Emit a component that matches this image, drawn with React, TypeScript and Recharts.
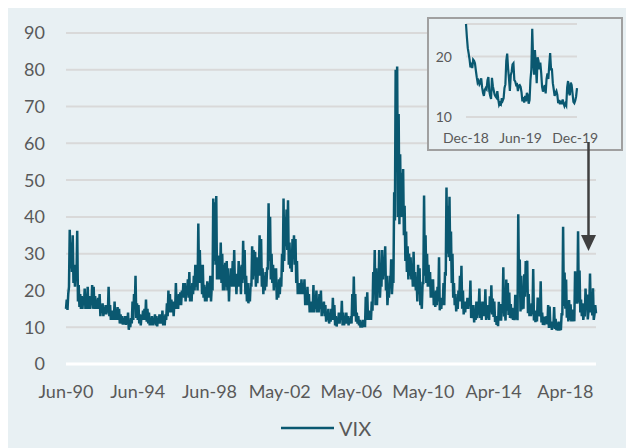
import { CartesianGrid, Legend, Line, LineChart, ReferenceLine, XAxis, YAxis } from 'recharts';

// VIX, two readings a month (monthly low / high close), Jun 1990 .. Dec 2019
const vix1990 = [15, 17.5, 14.7, 19, 21, 36.5, 26, 33, 25, 35, 22, 27, 21, 26];
const vix1991 = [23, 36.2, 17, 21.5, 15.5, 19, 15, 18.5, 15, 18, 16, 20.5, 15, 18, 15, 21, 15, 18.5, 15, 18, 16, 21.5, 15, 21];
const vix1992 = [15, 18.5, 15, 17.5, 15, 18, 15, 19, 13, 16, 14, 16.5, 13, 15.5, 13.5, 16, 13.5, 16, 14, 21, 13, 16, 12, 14.5];
const vix1993 = [12, 14.5, 12, 17, 12, 15, 12, 15.5, 12, 15, 11, 13.5, 11, 13, 10.7, 12.5, 10.8, 13, 10.6, 13, 10.8, 14, 9.3, 11.5];
const vix1994 = [10, 12.5, 11, 17, 12, 19, 15, 24, 12.5, 16.5, 12, 16, 11, 13.5, 10.5, 13, 12, 14.5, 12, 15, 12, 17.5, 11.5, 15];
const vix1995 = [11, 14, 10.5, 12.5, 10.5, 13, 10.5, 12.5, 11, 13.5, 10.5, 13, 10.2, 12.5, 11, 13.5, 11, 13.5, 11, 14.5, 10.5, 12.5, 10.5, 13.5];
const vix1996 = [12, 16.5, 13, 20, 14, 19, 14, 17.5, 14, 17, 13, 16.5, 15, 22, 15, 18, 15, 19, 16, 19.5, 16, 20, 18, 22];
const vix1997 = [18, 22, 17, 21, 19, 23, 18, 25, 17, 21, 17, 22, 19, 24, 20, 27, 21, 25, 20, 38.2, 22, 31, 22, 27];
const vix1998 = [19, 27, 18, 21.5, 17, 21, 17, 22.5, 18, 22, 18, 24, 17, 21, 20, 45, 28, 44, 27, 45.7, 23, 29, 23, 29.5];
const vix1999 = [23, 33, 22, 30, 20, 27, 20, 27.5, 21, 28, 20, 26, 17, 23, 21, 26, 21, 28, 21, 31, 21, 24.5, 19, 24.5];
const vix2000 = [21, 28, 21, 26.5, 19, 27, 22, 33.5, 23, 31, 19, 24, 17, 22, 16.5, 20, 17, 22, 21, 32, 23, 31, 24, 30.5];
const vix2001 = [21, 29, 22, 28, 24, 35, 24, 34, 21, 26, 19, 24, 20, 25, 21, 26, 26, 43.7, 28, 40, 23, 30, 22, 27];
const vix2002 = [20, 26, 21, 26, 17.5, 22, 18, 23, 19, 23.5, 21, 30, 25, 45, 28, 40, 32, 42, 31, 44.5, 27, 33, 26, 31];
const vix2003 = [25, 34, 29, 35, 27, 34, 22, 28, 19, 22, 19, 22, 19, 23, 19, 22, 19, 23, 16, 20, 16, 21, 16, 19];
const vix2004 = [14, 17, 14, 17, 14, 21.5, 14, 18, 15, 20, 14, 17, 14, 19, 15, 20, 13, 15.5, 14, 17, 13, 16, 11.5, 14];
const vix2005 = [12, 15, 11, 13, 11.5, 15, 12, 18, 12, 16, 10.5, 13, 10.2, 12, 11, 14, 11, 14, 12, 17.2, 10.5, 14, 10.5, 12.5];
const vix2006 = [11, 14, 11, 13, 10.5, 12.5, 11, 13, 11, 19, 13, 23.8, 13, 19, 11.5, 14, 11, 13, 10.5, 12, 9.9, 11.5, 9.9, 12];
const vix2007 = [10, 12, 10, 18.3, 12, 19.5, 12, 14.5, 12, 14, 12, 17, 14.5, 25, 20, 31, 16, 26, 16, 23, 20, 31, 18, 23];
const vix2008 = [21, 31, 23, 29, 24, 32, 20, 24, 16, 20, 18, 24, 21, 28.5, 19, 23, 22, 46.7, 39, 80, 54, 80.9, 40, 68];
const vix2009 = [38, 57, 40, 52, 40, 53, 35, 43, 28, 36, 25, 32, 23, 30, 24, 29, 23, 26, 21, 30.5, 21, 25, 20, 23];
const vix2010 = [17, 27, 19, 26, 16, 18.5, 15, 22, 22, 45.8, 24, 35, 22, 30, 21, 27, 21, 25, 18, 23, 18, 23, 16, 18];
const vix2011 = [15.5, 20, 16, 21, 17, 29, 14.6, 17, 15, 18, 16, 22, 16, 25, 24, 48, 30, 43, 29, 45.5, 28, 36, 22, 30];
const vix2012 = [18, 22, 16, 19, 14.3, 17, 15, 20, 17, 24, 17, 26.7, 15, 20, 13.5, 17, 14, 17, 15, 18, 15, 18, 16, 22.7];
const vix2013 = [12.5, 14.3, 12.5, 16, 11.3, 14.5, 12, 17, 12.5, 14.5, 15, 20.5, 12.5, 14.7, 12, 17, 13, 17, 13, 20.3, 12, 14, 12.5, 16];
const vix2014 = [12, 18.4, 14, 21.4, 13.5, 17.8, 12.8, 17, 11.4, 13, 10.6, 12, 10.3, 16.9, 11.8, 16.3, 11.8, 16, 14, 26.3, 12.9, 14.5, 11.8, 23];
const vix2015 = [14.5, 22, 13.3, 19.4, 12.5, 16.3, 12.4, 15.3, 12, 15, 11.9, 18.8, 12.1, 17, 11.9, 40.7, 20, 28.4, 14.3, 24, 14.8, 20, 15, 24.4];
const vix2016 = [18.3, 28, 19.5, 28.1, 13.8, 19, 13, 15.8, 13, 16.5, 13.5, 25.8, 11.8, 14.5, 11.4, 13.5, 11.6, 18.1, 13, 17.1, 12.9, 22.5, 11.3, 14];
const vix2017 = [10.6, 12.9, 10.6, 12.9, 11, 13, 10.8, 16, 9.8, 15.6, 9.9, 11.5, 9.3, 11.3, 9.9, 15.5, 9.5, 12.3, 9.2, 11.2, 9.1, 11.5, 9.1, 11.1];
const vix2018 = [9.2, 13.5, 13.5, 37.3, 15.8, 24.9, 15, 23, 12.6, 15.9, 11.6, 17.4, 12, 16.2, 11.6, 14.8, 11.6, 13.8, 11.6, 25.2, 16.4, 22.5, 16.4, 36.1];
const vix2019 = [16.7, 25.4, 14, 17.5, 13, 16.5, 12, 14, 12.9, 20.5, 15, 18.9, 12.1, 14.5, 16, 24.6, 14, 19.5, 13.2, 20.6, 12, 13.5, 16, 13.8];

const years = [
  vix1990, vix1991, vix1992, vix1993, vix1994, vix1995, vix1996, vix1997, vix1998, vix1999,
  vix2000, vix2001, vix2002, vix2003, vix2004, vix2005, vix2006, vix2007, vix2008, vix2009,
  vix2010, vix2011, vix2012, vix2013, vix2014, vix2015, vix2016, vix2017, vix2018, vix2019,
];

// month index (0 = Jun-90) of each category label
const xTickMonths = [0, 48, 96, 143, 191, 239, 286, 334];
const xTickLabels = ['Jun-90', 'Jun-94', 'Jun-98', 'May-02', 'May-06', 'May-10', 'Apr-14', 'Apr-18'];
const yTicks = [0, 10, 20, 30, 40, 50, 60, 70, 80, 90];

// inset: Dec-18 .. Dec-19, roughly every other trading day
const insetDec18 = [25.4];
const insetJan19 = [23.2, 21.4, 20.5, 19.5, 18.2, 19.0, 18.1, 19.5, 19.3, 18.9, 17.7, 16.6];
const insetFeb19 = [15.7, 16.0, 15.4, 15.7, 16.4, 14.9, 14.0, 13.5, 14.5, 14.8];
const insetMar19 = [14.6, 16.1, 16.6, 14.3, 13.5, 13.0, 16.5, 15.1, 14.4, 13.7];
const insetApr19 = [13.4, 13.2, 14.3, 13.0, 12.0, 12.3, 12.1, 13.1, 12.7, 13.1];
const insetMay19 = [14.8, 15.4, 19.3, 20.5, 18.1, 16.4, 14.3, 16.9, 17.5, 18.7];
const insetJun19 = [18.9, 16.1, 15.9, 15.3, 15.4, 14.3, 15.2, 15.3, 15.0];
const insetJul19 = [14.1, 12.6, 13.3, 12.4, 13.5, 12.6, 14.0, 13.6, 12.2, 12.8, 16.1];
const insetAug19 = [17.9, 24.6, 19.5, 17.0, 21.1, 18.5, 15.6, 19.9, 19.3, 17.9, 19.0];
const insetSep19 = [17.3, 15.0, 14.2, 14.7, 15.3, 13.9, 16.3, 17.2, 16.3];
const insetOct19 = [18.6, 20.6, 17.9, 17.9, 15.6, 14.6, 13.5, 14.0, 14.3, 13.7];
const insetNov19 = [12.3, 12.8, 12.1, 12.7, 12.1, 12.9, 12.3, 11.8, 12.2, 11.9];
const insetDec19 = [14.9, 15.96, 14.0, 13.6, 15.7, 15.3, 13.9, 12.5, 12.3, 12.7, 13.4, 14.8];

const insetMonths = [
  insetDec18, insetJan19, insetFeb19, insetMar19, insetApr19, insetMay19, insetJun19,
  insetJul19, insetAug19, insetSep19, insetOct19, insetNov19, insetDec19,
];
const insetTickLabels = ['Dec-18', 'Jun-19', 'Dec-19'];
const insetYTicks = [10, 20];

const data = years.flat().map((vix, i) => ({ t: i / 2, vix }));
const insetData = insetMonths.flat().map((vix, i) => ({ t: i, vix }));
const insetTicks = [0, insetMonths.slice(0, 7).flat().length - 1, insetData.length - 3];

const BG = '#E8F0F3';
const LINE = '#0A5870';
const GRID = '#D9D9D9';
const TEXT = '#595959';

const VixLegend = () => (
  <div style={{ display: 'flex', alignItems: 'center', height: 24, paddingLeft: 274 }}>
    <svg width={53} height={4}>
      <line x1={0} y1={2} x2={53} y2={2} stroke={LINE} strokeWidth={2.5} />
    </svg>
    <span style={{ marginLeft: 5, fontSize: 20, color: TEXT, lineHeight: '24px' }}>VIX</span>
  </div>
);

export default function App() {
  return (
    <div
      style={{
        position: 'relative',
        width: 627,
        height: 445,
        margin: '-5px 0 0 -1px',
        background: BG,
        fontFamily: 'Lato, sans-serif',
      }}
    >
      <LineChart width={627} height={445} data={data} margin={{ top: 30, right: 38, bottom: 8, left: 0 }}>
        <CartesianGrid vertical={false} stroke={GRID} strokeWidth={2} />
        <XAxis
          dataKey="t"
          type="number"
          domain={[0, 'dataMax']}
          ticks={xTickMonths}
          interval={0}
          tickFormatter={(v) => xTickLabels[xTickMonths.indexOf(v)]}
          axisLine={false}
          tickLine={false}
          tickSize={0}
          tickMargin={21}
          height={52}
          tick={{ fill: TEXT, fontSize: 18 }}
        />
        <YAxis
          domain={[0, 90]}
          ticks={yTicks}
          interval={0}
          width={59}
          axisLine={false}
          tickLine={false}
          tickSize={0}
          tickMargin={21}
          tick={{ fill: TEXT, fontSize: 18 }}
        />
        <ReferenceLine y={0} stroke="#ffffff" strokeWidth={3} />
        <Line dataKey="vix" stroke={LINE} strokeWidth={2.5} dot={false} isAnimationActive={false} />
        <Legend verticalAlign="bottom" wrapperStyle={{ left: 0, width: 627 }} content={() => <VixLegend />} />
      </LineChart>

      <div
        style={{
          position: 'absolute',
          left: 420,
          top: 14,
          width: 196,
          height: 134,
          boxSizing: 'border-box',
          border: '2px solid #A0A0A0',
          background: BG,
        }}
      >
        <LineChart width={192} height={130} data={insetData} margin={{ top: 5, right: 44, bottom: 0, left: 0 }}>
          <CartesianGrid vertical={false} stroke={GRID} strokeWidth={2} />
          <XAxis
            dataKey="t"
            type="number"
            domain={[0, 'dataMax']}
            ticks={insetTicks}
            interval={0}
            tickFormatter={(v) => insetTickLabels[insetTicks.indexOf(v)]}
            axisLine={false}
            tickLine={false}
            tickSize={0}
            tickMargin={16}
            height={32}
            tick={{ fill: TEXT, fontSize: 14 }}
          />
          <YAxis
            domain={[10, 'dataMax']}
            ticks={insetYTicks}
            interval={0}
            width={37}
            axisLine={false}
            tickLine={false}
            tickSize={0}
            tickMargin={14}
            tick={{ fill: TEXT, fontSize: 14 }}
          />
          <Line dataKey="vix" stroke={LINE} strokeWidth={2.2} dot={false} isAnimationActive={false} />
        </LineChart>
      </div>

      <svg width={627} height={445} style={{ position: 'absolute', left: 0, top: 0, pointerEvents: 'none' }}>
        <line x1={581.5} y1={139} x2={581.5} y2={234} stroke="#404040" strokeWidth={2.5} />
        <polygon points="574,232 589,232 581.5,248" fill="#404040" />
      </svg>
    </div>
  );
}
